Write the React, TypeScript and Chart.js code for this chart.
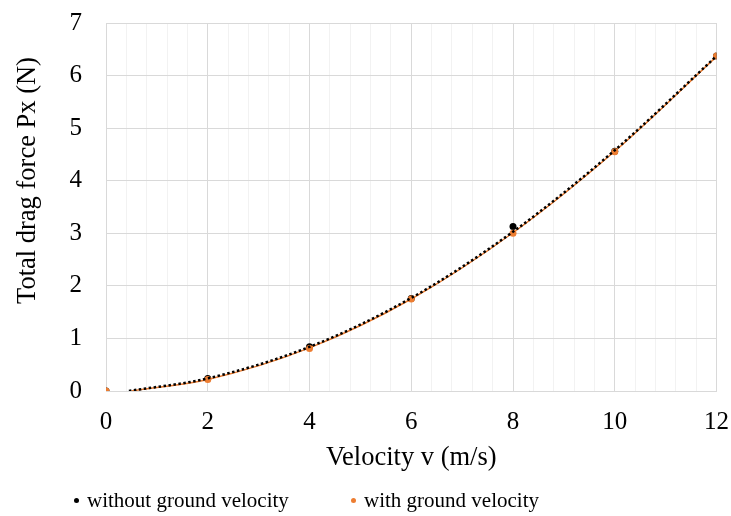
import React, { useEffect, useRef } from "react";
import { Chart, registerables } from "chart.js";

Chart.register(...registerables);

const velocities = [0, 2, 4, 6, 8, 10, 12];
const withoutGround = [0, 0.24, 0.84, 1.76, 3.13, 4.56, 6.37];
const withGround = [0, 0.22, 0.81, 1.75, 3.0, 4.55, 6.37];

// trendline values
const trendWithoutX = [0.45, 2, 4, 6, 8, 10, 12];
const trendWithoutY = [0, 0.24, 0.84, 1.77, 3.03, 4.58, 6.37];
const trendWithX = [0.5, 2, 4, 6, 8, 10, 12];
const trendWithY = [0, 0.22, 0.82, 1.75, 3.01, 4.56, 6.36];

const yTicks = [0, 1, 2, 3, 4, 5, 6, 7];
const xTitle = "Velocity v (m/s)";
const yTitle = "Total drag force Px (N)";
const legendLabels = ["without ground velocity", "with ground velocity"];

const ORANGE = "#ED7D31";
const BLACK = "#000000";
const FONT = "'Liberation Serif', 'Times New Roman', serif";

const pts = (xs: number[], ys: number[]) => xs.map((x, i) => ({ x, y: ys[i] }));
const isMajor = (v: number) => Math.abs(v / 2 - Math.round(v / 2)) < 1e-6;

export default function App() {
  const ref = useRef<HTMLCanvasElement | null>(null);

  useEffect(() => {
    document.body.style.margin = "0";
    const ctx = ref.current;
    if (!ctx) return;
    const chart = new Chart(ctx, {
      type: "scatter",
      data: {
        datasets: [
          {
            label: "trend without",
            data: pts(trendWithoutX, trendWithoutY),
            showLine: true,
            borderColor: BLACK,
            borderWidth: 2.5,
            borderDash: [2.5, 2.5],
            borderCapStyle: "butt",
            cubicInterpolationMode: "monotone",
            pointRadius: 0,
            order: 0,
          },
          {
            label: "trend with",
            data: pts(trendWithX, trendWithY),
            showLine: true,
            borderColor: ORANGE,
            borderWidth: 1.5,
            cubicInterpolationMode: "monotone",
            pointRadius: 0,
            order: 1,
          },
          {
            label: legendLabels[1],
            data: pts(velocities, withGround),
            backgroundColor: ORANGE,
            borderColor: ORANGE,
            pointRadius: 3.5,
            borderWidth: 0,
            order: 2,
          },
          {
            label: legendLabels[0],
            data: pts(velocities, withoutGround),
            backgroundColor: BLACK,
            borderColor: BLACK,
            pointRadius: 3.5,
            borderWidth: 0,
            order: 3,
          },
        ],
      },
      options: {
        animation: false,
        responsive: false,
        maintainAspectRatio: false,
        layout: { padding: { left: 0, right: 0, top: 23, bottom: 40 } },
        plugins: { legend: { display: false }, tooltip: { enabled: false } },
        scales: {
          x: {
            type: "linear",
            min: 0,
            max: 12,
            afterFit: (s: any) => {
              s.height = 85;
            },
            ticks: {
              stepSize: 0.4,
              autoSkip: false,
              maxRotation: 0,
              minRotation: 0,
              padding: 2,
              color: "#000",
              font: { family: FONT, size: 25 },
              callback: (v: any) => (isMajor(Number(v)) ? String(Math.round(Number(v))) : ""),
            },
            grid: {
              drawTicks: true,
              tickLength: 14,
              tickColor: "rgba(0,0,0,0)",
              color: (c: any) => (c.tick && isMajor(c.tick.value) ? "#d9d9d9" : "#f2f2f2"),
              lineWidth: 1,
            },
            border: { display: true, color: "#d9d9d9" },
            title: {
              display: true,
              text: xTitle,
              color: "#000",
              font: { family: FONT, size: 26.5 },
              padding: { top: 0, bottom: 2 },
            },
          },
          y: {
            type: "linear",
            min: 0,
            max: 7,
            afterFit: (s: any) => {
              s.width = 106;
            },
            afterBuildTicks: (s: any) => {
              s.ticks = yTicks.map((v) => ({ value: v }));
            },
            ticks: {
              stepSize: 1,
              padding: 0,
              color: "#000",
              font: { family: FONT, size: 25 },
            },
            grid: {
              drawTicks: true,
              tickLength: 24,
              tickColor: "rgba(0,0,0,0)",
              color: "#d9d9d9",
              lineWidth: 1,
            },
            border: { display: true, color: "#d9d9d9" },
            title: {
              display: true,
              text: "        " + yTitle,
              color: "#000",
              font: { family: FONT, size: 26.5 },
              padding: { top: 12, bottom: 0 },
            },
          },
        },
      },
    } as any);
    return () => chart.destroy();
  }, []);

  const dot = (color: string) => ({
    display: "inline-block",
    width: 5,
    height: 5,
    borderRadius: "50%",
    background: color,
    marginRight: 8,
    verticalAlign: "middle",
    position: "relative" as const,
    top: -2,
  });

  return (
    <div style={{ position: "relative", width: 731, height: 516 }}>
      <canvas ref={ref} width={731} height={516} style={{ display: "block" }} />
      <div
        style={{
          position: "absolute",
          top: 488,
          left: 0,
          width: 731,
          height: 26,
          fontFamily: FONT,
          fontSize: 21,
          lineHeight: "24px",
          color: "#000",
          whiteSpace: "nowrap",
        }}
      >
        <span style={{ position: "absolute", left: 74 }}>
          <span style={dot(BLACK)} />
          {legendLabels[0]}
        </span>
        <span style={{ position: "absolute", left: 351 }}>
          <span style={dot(ORANGE)} />
          {legendLabels[1]}
        </span>
      </div>
    </div>
  );
}
